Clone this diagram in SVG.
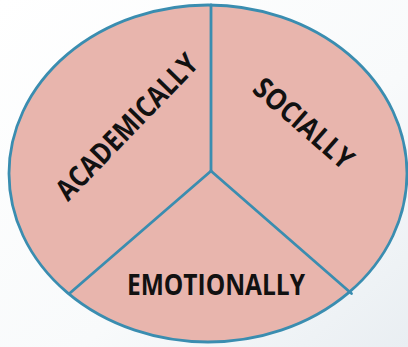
<svg xmlns="http://www.w3.org/2000/svg" width="408" height="347" viewBox="0 0 408 347">
  <defs>
    <linearGradient id="bg" x1="0" y1="0" x2="1" y2="1">
      <stop offset="0" stop-color="#ffffff"/>
      <stop offset="0.6" stop-color="#f8fafb"/>
      <stop offset="1" stop-color="#e9eef2"/>
    </linearGradient>
    <style>
      .pie { fill: #e8b5ad; stroke: #3a8db0; stroke-width: 2.8; }
      .div { stroke: #3a8db0; stroke-width: 2.8; fill: none; stroke-linecap: round; }
      .lbl { font-family: "Open Sans", "DejaVu Sans", sans-serif; font-weight: 700; font-size: 29px; fill: #111111; text-anchor: middle; }
    </style>
  </defs>
  <rect width="408" height="347" fill="url(#bg)"/>
  <g id="circle">
    <ellipse class="pie" cx="208" cy="173.5" rx="199" ry="168.5"/>
  </g>
  <g id="connectors">
    <line class="div" x1="211" y1="5" x2="211" y2="171"/>
    <line class="div" x1="211" y1="171" x2="70" y2="293"/>
    <line class="div" x1="211" y1="171" x2="351.5" y2="293.5"/>
  </g>
  <g id="academically">
    <text class="lbl" transform="translate(126.5 126.5) rotate(-46)" x="0" y="10.5" textLength="190" lengthAdjust="spacingAndGlyphs">ACADEMICALLY</text>
  </g>
  <g id="socially">
    <text class="lbl" transform="translate(304 123) rotate(41)" x="0" y="10.5" textLength="122" lengthAdjust="spacingAndGlyphs">SOCIALLY</text>
  </g>
  <g id="emotionally">
    <text class="lbl" x="216" y="295" textLength="178" lengthAdjust="spacingAndGlyphs">EMOTIONALLY</text>
  </g>
</svg>
